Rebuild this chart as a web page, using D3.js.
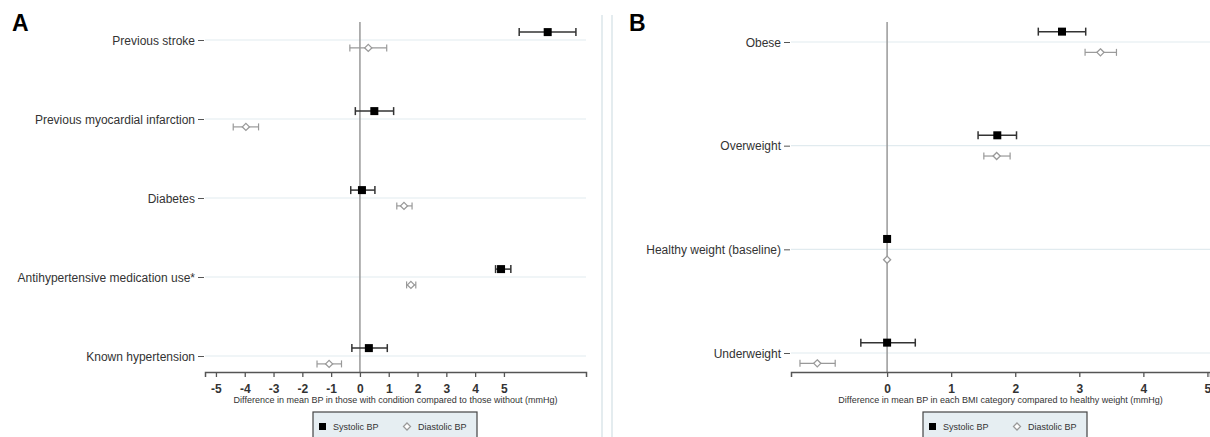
<!DOCTYPE html>
<html>
<head>
<meta charset="utf-8">
<script src="https://cdn.jsdelivr.net/npm/d3@7"></script>
<style>
  body { margin: 0; background: #fff; }
  svg text { font-family: "Liberation Sans", Arial, sans-serif; }
</style>
</head>
<body>
<div id="chart"></div>
<script>
// panel A: conditions
var catsA = ["Previous stroke", "Previous myocardial infarction", "Diabetes",
             "Antihypertensive medication use*", "Known hypertension"];
var sysA   = [6.52, 0.50, 0.07, 4.90, 0.31];
var sysLoA = [5.53, -0.16, -0.32, 4.71, -0.28];
var sysHiA = [7.50, 1.17, 0.52, 5.24, 0.95];
var diaA   = [0.29, -3.96, 1.53, 1.77, -1.07];
var diaLoA = [-0.35, -4.40, 1.28, 1.62, -1.49];
var diaHiA = [0.93, -3.52, 1.81, 1.94, -0.64];
var ticksA = [-5, -4, -3, -2, -1, 0, 1, 2, 3, 4, 5];

// panel B: BMI categories
var catsB = ["Obese", "Overweight", "Healthy weight (baseline)", "Underweight"];
var sysB   = [2.73, 1.72, 0, 0];
var sysLoB = [2.36, 1.42, null, -0.41];
var sysHiB = [3.10, 2.02, null, 0.44];
var diaB   = [3.33, 1.71, 0, -1.09];
var diaLoB = [3.09, 1.51, null, -1.36];
var diaHiB = [3.58, 1.92, null, -0.81];
var ticksB = [0, 1, 2, 3, 4, 5];

var legendLabels = ["Systolic BP", "Diastolic BP"];

var svg = d3.select("#chart").append("svg")
  .attr("width", 1210)
  .attr("height", 437);

// separator between the panels
[602, 612].forEach(function(x) {
  svg.append("line")
    .attr("x1", x).attr("x2", x)
    .attr("y1", 15).attr("y2", 437)
    .attr("stroke", "#dbe6ea")
    .attr("stroke-width", 1.5);
});

function drawPanel(p) {
  var x = d3.scaleLinear().domain(p.domain).range([p.left, p.right]);
  var y = d3.scalePoint().domain(p.cats).range([p.top, p.bottom]);
  var off = y.step() * 0.1;
  var g = svg.append("g");

  // panel letter
  g.append("text")
    .attr("x", p.letterX).attr("y", 31)
    .style("font-size", "23px").style("font-weight", "bold")
    .text(p.letter);

  // row grid lines
  g.selectAll(".grid")
    .data(p.cats)
    .enter().append("line")
      .attr("x1", p.left).attr("x2", p.right)
      .attr("y1", function(d) { return y(d); })
      .attr("y2", function(d) { return y(d); })
      .attr("stroke", "#e1ebef")
      .attr("stroke-width", 1.2);

  // zero line
  g.append("line")
    .attr("x1", x(0)).attr("x2", x(0))
    .attr("y1", 22).attr("y2", p.axisY)
    .attr("stroke", "#999")
    .attr("stroke-width", 1.5);

  // row labels
  var yAxis = g.append("g")
    .attr("transform", "translate(" + (p.left - 1) + ",0)")
    .call(d3.axisLeft(y).tickSize(6).tickPadding(3));
  yAxis.select(".domain").remove();
  yAxis.selectAll("line").attr("stroke", "#555");
  yAxis.selectAll("text")
    .style("font-size", "12px")
    .attr("fill", "#333")
    .attr("dy", "0.35em");

  // x axis
  var xAxis = g.append("g")
    .attr("transform", "translate(0," + p.axisY + ")")
    .call(d3.axisBottom(x).tickValues(p.ticks).tickSize(5).tickPadding(7)
      .tickFormat(function(d) { return String(d); }));
  xAxis.select(".domain").attr("stroke", "#555").attr("stroke-width", 1.5);
  xAxis.selectAll(".tick line").attr("stroke", "#555").attr("stroke-width", 1.3);
  xAxis.selectAll("text")
    .style("font-size", "12px")
    .style("font-weight", "bold")
    .attr("fill", "#333");

  g.append("text")
    .attr("x", (p.left + p.right) / 2)
    .attr("y", p.axisY + 31)
    .attr("text-anchor", "middle")
    .attr("fill", "#333")
    .style("font-size", "9px")
    .text(p.title);

  // systolic: black square with CI
  var sys = p.cats.map(function(c, i) { return {c: c, v: p.sys[i], lo: p.sysLo[i], hi: p.sysHi[i]}; });
  var dia = p.cats.map(function(c, i) { return {c: c, v: p.dia[i], lo: p.diaLo[i], hi: p.diaHi[i]}; });

  function errorBars(data, dy, color, w, cap) {
    var withCi = data.filter(function(d) { return d.lo != null; });
    g.selectAll(null).data(withCi).enter().append("line")
      .attr("x1", function(d) { return x(d.lo); })
      .attr("x2", function(d) { return x(d.hi); })
      .attr("y1", function(d) { return y(d.c) + dy; })
      .attr("y2", function(d) { return y(d.c) + dy; })
      .attr("stroke", color).attr("stroke-width", w);
    ["lo", "hi"].forEach(function(k) {
      g.selectAll(null).data(withCi).enter().append("line")
        .attr("x1", function(d) { return x(d[k]); })
        .attr("x2", function(d) { return x(d[k]); })
        .attr("y1", function(d) { return y(d.c) + dy - cap; })
        .attr("y2", function(d) { return y(d.c) + dy + cap; })
        .attr("stroke", color).attr("stroke-width", w);
    });
  }

  errorBars(sys, -off, "#333", 1.5, 4);
  g.selectAll(null).data(sys).enter().append("rect")
    .attr("x", function(d) { return x(d.v) - 4; })
    .attr("y", function(d) { return y(d.c) - off - 4; })
    .attr("width", 8).attr("height", 8)
    .attr("fill", "#000");

  // diastolic: hollow grey diamond with CI
  errorBars(dia, off, "#999", 1.2, 3.5);
  var diamond = d3.symbol().type(d3.symbolDiamond2).size(32);
  g.selectAll(null).data(dia).enter().append("path")
    .attr("d", diamond)
    .attr("transform", function(d) { return "translate(" + x(d.v) + "," + (y(d.c) + off) + ")"; })
    .attr("fill", "#fff")
    .attr("stroke", "#999")
    .attr("stroke-width", 1.3);

  // legend
  var lg = g.append("g").attr("transform", "translate(" + p.legendX + ",412)");
  lg.append("rect")
    .attr("width", 164).attr("height", 30)
    .attr("fill", "#e6eef2")
    .attr("stroke", "#444")
    .attr("stroke-width", 1.2);
  lg.append("rect")
    .attr("x", 6).attr("y", 11).attr("width", 7).attr("height", 7)
    .attr("fill", "#000");
  lg.append("text")
    .attr("x", 20).attr("y", 18)
    .style("font-size", "9px").attr("fill", "#333")
    .text(legendLabels[0]);
  lg.append("path")
    .attr("d", diamond)
    .attr("transform", "translate(94,14.5)")
    .attr("fill", "#fff").attr("stroke", "#999").attr("stroke-width", 1.2);
  lg.append("text")
    .attr("x", 105).attr("y", 18)
    .style("font-size", "9px").attr("fill", "#333")
    .text(legendLabels[1]);
}

drawPanel({
  letter: "A", letterX: 12,
  cats: catsA, sys: sysA, sysLo: sysLoA, sysHi: sysHiA,
  dia: diaA, diaLo: diaLoA, diaHi: diaHiA,
  ticks: ticksA, domain: [-5.38, 7.85],
  left: 205, right: 586, top: 40, bottom: 356, axisY: 372,
  title: "Difference in mean BP in those with condition compared to those without (mmHg)",
  legendX: 313
});

drawPanel({
  letter: "B", letterX: 629,
  cats: catsB, sys: sysB, sysLo: sysLoB, sysHi: sysHiB,
  dia: diaB, diaLo: diaLoB, diaHi: diaHiB,
  ticks: ticksB, domain: [-1.5, 5.04],
  left: 791, right: 1210, top: 42, bottom: 353, axisY: 372,
  title: "Difference in mean BP in each BMI category compared to healthy weight (mmHg)",
  legendX: 923
});
</script>
</body>
</html>
